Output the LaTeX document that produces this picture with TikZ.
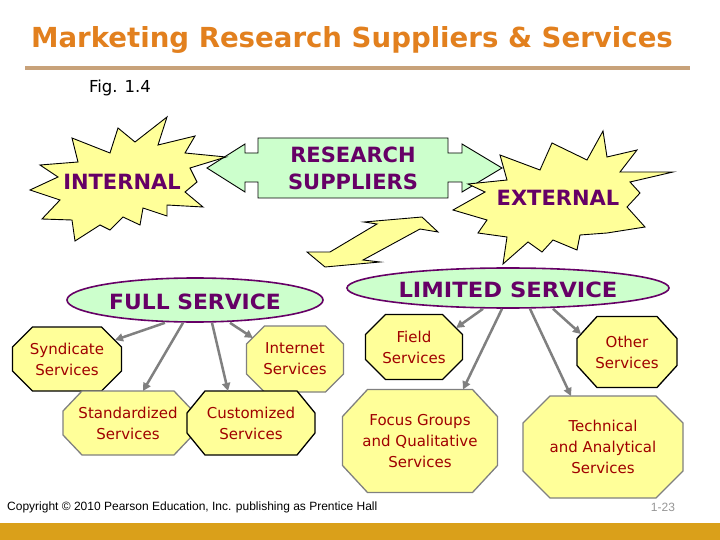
\documentclass[tikz,border=0pt]{standalone}
\usepackage{fontspec}
\setmainfont{DejaVu Sans}
\newfontfamily\arialf{Liberation Sans}
\usetikzlibrary{shapes.geometric,arrows.meta,calc}
\definecolor{titleor}{RGB}{226,128,30}
\definecolor{rulec}{RGB}{200,162,122}
\definecolor{goldbar}{RGB}{218,160,26}
\definecolor{purp}{RGB}{102,0,102}
\definecolor{dred}{RGB}{160,0,0}
\definecolor{lyel}{RGB}{255,255,153}
\definecolor{lgreen}{RGB}{204,255,204}
\definecolor{conngrey}{RGB}{128,128,128}
\definecolor{pagegrey}{RGB}{150,150,150}
\tikzset{
  octline/.style={fill=lyel, line width=1.3pt, line join=miter},
  octtext/.style={rectangle, inner sep=0pt, text=dred,
    font=\fontsize{15}{21}\selectfont, align=center},
  bigtxt/.style={text=purp, font=\bfseries\fontsize{21}{27}\selectfont, align=center},
  ovalbox/.style={ellipse, draw=purp, line width=1.6pt, fill=lgreen, inner sep=0pt},
  link/.style={draw=conngrey, line width=2.5pt, -{Triangle[length=8pt,width=8pt]}},
  shapeline/.style={draw=black, line width=0.9pt, line join=miter}
}
% name, cx, cy, width, height, chamfer x, chamfer y, border colour, text
\newcommand\octobox[9]{%
  \filldraw[octline, draw=#8] ({#2-#4/2+#6},{#3-#5/2}) -- ({#2+#4/2-#6},{#3-#5/2})
    -- ({#2+#4/2},{#3-#5/2+#7}) -- ({#2+#4/2},{#3+#5/2-#7}) -- ({#2+#4/2-#6},{#3+#5/2})
    -- ({#2-#4/2+#6},{#3+#5/2}) -- ({#2-#4/2},{#3+#5/2-#7}) -- ({#2-#4/2},{#3-#5/2+#7}) -- cycle;
  \node[octtext, minimum width=#4pt, minimum height=#5pt] (#1) at (#2,#3) {#9};}
\begin{document}
\begin{tikzpicture}[x=1pt,y=-1pt]
\useasboundingbox (0,0) rectangle (720,540);
\fill[white] (0,0) rectangle (720,540);

% title and rule
\node[text=titleor, font=\bfseries\fontsize{27.6}{32}\selectfont] (title) at (352,40) {Marketing Research Suppliers \& Services};
\draw[rulec, line width=3.5pt] (25,68) -- (690,68);
\node[font=\fontsize{16.5}{18}\selectfont] (fig) at (120,88) {Fig. 1.4};

% research suppliers callout (double arrow box)
\filldraw[shapeline, fill=lgreen] (258,138) -- (448,138) -- (448,153) -- (462,153) -- (462,144) -- (502,168)
  -- (462,192) -- (462,182) -- (448,182) -- (448,198) -- (258,198) -- (258,182) -- (245,182)
  -- (245,192) -- (207,168) -- (245,144) -- (245,153) -- (258,153) -- cycle;
\node[bigtxt] (rs) at (353,168) {RESEARCH\\SUPPLIERS};

% internal starburst
\filldraw[shapeline, fill=lyel] (167,117) -- (158,145) -- (195,136) -- (185,153) -- (226,157) -- (190,168)
  -- (197,182) -- (185,192) -- (203,207) -- (167,205) -- (167,216) -- (143,208) -- (140,225)
  -- (123,217) -- (110,230) -- (100,225) -- (75,241) -- (72,220) -- (42,219) -- (60,200)
  -- (30,190) -- (58,177) -- (40,165) -- (78,162) -- (72,138) -- (110,153) -- (118,128)
  -- (135,142) -- cycle;
\node[bigtxt] (internal) at (122,182) {INTERNAL};

% external starburst
\filldraw[shapeline, fill=lyel] (603,131) -- (587,160) -- (552,143) -- (540,170) -- (500,155) -- (507,180)
  -- (468,184) -- (485,192) -- (453,210) -- (487,220) -- (478,233) -- (507,237) -- (503,264)
  -- (528,242) -- (542,252) -- (553,240) -- (577,250) -- (580,235) -- (607,233) -- (645,227)
  -- (627,207) -- (640,193) -- (630,182) -- (673,172) -- (620,172) -- (637,150) -- (607,157)
  -- cycle;
\node[bigtxt] (external) at (558,198) {EXTERNAL};

% zigzag double arrow
\filldraw[shapeline, fill=lyel] (307,252) -- (330,252) -- (377,224) -- (364,222) -- (422,217) -- (438,232)
  -- (420,229) -- (363,260) -- (380,262) -- (325,267) -- cycle;

% ellipses
\node[ovalbox, minimum width=256pt, minimum height=44pt] (fs) at (195,300) {};
\node[bigtxt] (fstxt) at (195,302) {\scalebox{1.04}[1]{FULL SERVICE}};
\node[ovalbox, minimum width=322pt, minimum height=40pt] (ls) at (508,288) {};
\node[bigtxt] (lstxt) at (508,290) {\scalebox{1.08}[1]{LIMITED SERVICE}};

% octagons
\octobox{syn}{67}{359}{109}{64}{20}{20}{black}{Syndicate\\Services}
\octobox{int}{295}{359}{97}{66}{18}{18}{conngrey}{Internet\\Services}
\octobox{std}{128}{423}{130}{64}{19}{20}{conngrey}{Standardized\\Services}
\octobox{cus}{251}{423}{128}{64}{18}{22}{black}{Customized\\Services}
\octobox{fld}{414}{347}{97}{65}{20}{20}{black}{Field\\Services}
\octobox{oth}{627}{352}{100}{71}{20}{22}{black}{Other\\Services}
\octobox{foc}{420}{441}{155}{103}{25}{27}{conngrey}{Focus Groups\\and Qualitative\\Services}
\octobox{tec}{603}{447}{160}{102}{27}{27}{conngrey}{Technical\\and Analytical\\Services}

% connectors
\draw[link] ([xshift=-30pt]fs.south) -- ($(syn)+(48,-19)$);
\draw[link] ([xshift=-12pt]fs.south) -- ($(std)+(15,-32)$);
\draw[link] ([xshift=17pt]fs.south) -- ($(cus)+(-23,-32)$);
\draw[link] ([xshift=35pt]fs.south) -- ($(int)+(-42,-21)$);
\draw[link] ([xshift=-25pt]ls.south) -- ($(fld)+(42,-19)$);
\draw[link] ([xshift=-6pt]ls.south) -- ($(foc)+(43,-51.5)$);
\draw[link] ([xshift=22pt]ls.south) -- ($(tec)+(-32,-51)$);
\draw[link] ([xshift=45pt]ls.south) -- ($(oth)+(-46,-18)$);

% footer
\fill[goldbar] (0,523) rectangle (720,540);
\node[anchor=west, font=\arialf\fontsize{12}{14}\selectfont, inner sep=0pt] (copy) at (7,507) {Copyright © 2010 Pearson Education, Inc. publishing as Prentice Hall};
\node[text=pagegrey, font=\arialf\fontsize{12}{14}\selectfont] (pg) at (663,507) {1-23};
\end{tikzpicture}
\end{document}
